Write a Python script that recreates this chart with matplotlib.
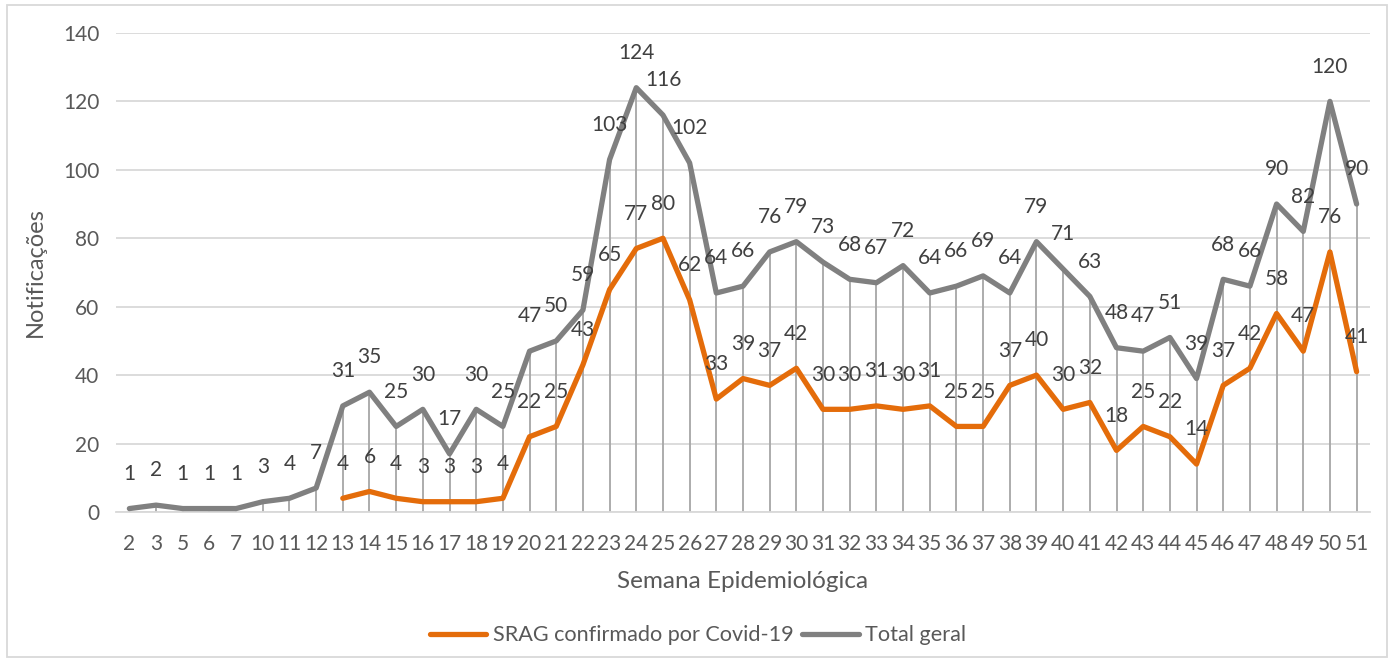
import matplotlib.pyplot as plt
import numpy as np
from matplotlib.patches import Rectangle

plt.rcParams['font.family'] = ['Lato', 'DejaVu Sans']

# semanas epidemiológicas
semanas = ['2', '3', '5', '6', '7', '10', '11', '12', '13', '14', '15', '16', '17',
           '18', '19', '20', '21', '22', '23', '24', '25', '26', '27', '28', '29',
           '30', '31', '32', '33', '34', '35', '36', '37', '38', '39', '40', '41',
           '42', '43', '44', '45', '46', '47', '48', '49', '50', '51']
total_geral = [1, 2, 1, 1, 1, 3, 4, 7, 31, 35, 25, 30, 17, 30, 25, 47, 50, 59,
               103, 124, 116, 102, 64, 66, 76, 79, 73, 68, 67, 72, 64, 66, 69,
               64, 79, 71, 63, 48, 47, 51, 39, 68, 66, 90, 82, 120, 90]
# SRAG só começa na semana 13
srag_inicio = 8
srag_covid = [4, 6, 4, 3, 3, 3, 4, 22, 25, 43, 65, 77, 80, 62, 33, 39, 37, 42,
              30, 30, 31, 30, 31, 25, 25, 37, 40, 30, 32, 18, 25, 22, 14, 37,
              42, 58, 47, 76, 41]

laranja = '#E46C0A'
cinza = '#808080'
texto = '#404040'

x = np.arange(len(semanas))
xs = x[srag_inicio:]

fig = plt.figure(figsize=(13.88, 6.59), dpi=100)
ax = fig.add_axes([0.0836, 0.2231, 0.9034, 0.7269])

# linhas de queda
ax.vlines(x, 0, total_geral, color='#A6A6A6', linewidth=1.3, zorder=1)

l1, = ax.plot(xs, srag_covid, color=laranja, linewidth=3.8,
              solid_joinstyle='round', solid_capstyle='round',
              label='SRAG confirmado por Covid-19', zorder=3)
l2, = ax.plot(x, total_geral, color=cinza, linewidth=3.8,
              solid_joinstyle='round', solid_capstyle='round',
              label='Total geral', zorder=3)

for xi, v in zip(x, total_geral):
    ax.annotate(str(v), (xi, v), xytext=(0, 25), textcoords='offset points',
                ha='center', va='center', fontsize=15, color=texto, zorder=4)
for xi, v in zip(xs, srag_covid):
    ax.annotate(str(v), (xi, v), xytext=(0, 25), textcoords='offset points',
                ha='center', va='center', fontsize=15, color=texto, zorder=4)

ax.set_xlim(-0.5, len(semanas) - 0.5)
ax.set_ylim(0, 140)
ax.set_yticks(np.arange(0, 141, 20))
ax.set_xticks(x)
ax.set_xticklabels(semanas)
ax.tick_params(axis='both', length=0, labelsize=15, labelcolor='#595959')
ax.tick_params(axis='x', pad=16)
ax.tick_params(axis='y', pad=12)
ax.grid(axis='y', color='#D9D9D9', linewidth=1.3, zorder=0)
ax.set_axisbelow(True)
for s in ['top', 'right', 'left']:
    ax.spines[s].set_visible(False)
ax.spines['bottom'].set_color('#D9D9D9')
ax.spines['bottom'].set_linewidth(1.3)

ax.set_ylabel('Notificações', fontsize=17, color='#595959', labelpad=12)
ax.set_xlabel('Semana Epidemiológica', fontsize=17.5, color='#595959', labelpad=12)

fig.legend(handles=[l1, l2], loc='center', bbox_to_anchor=(0.503, 0.036),
           ncol=2, frameon=False, fontsize=15.6, handlelength=2.6,
           handletextpad=0.3, columnspacing=0.4, labelcolor='#595959')

# borda do gráfico
fig.patches.append(Rectangle((0.005, 0.003), 0.994, 0.99, transform=fig.transFigure,
                             fill=False, edgecolor='#D9D9D9', linewidth=1.3))

fig.savefig('out.png', dpi=100)
